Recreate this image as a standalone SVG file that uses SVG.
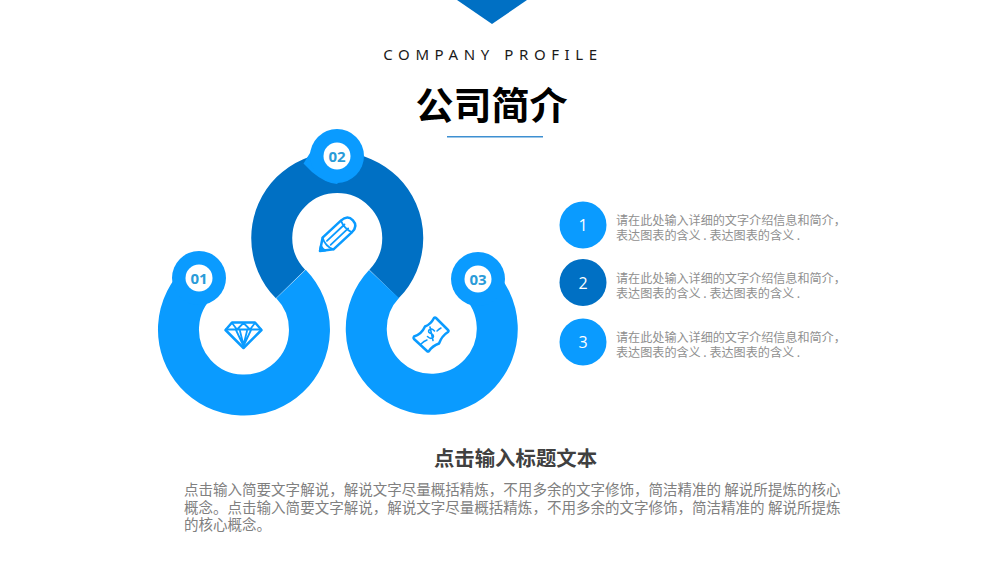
<svg xmlns="http://www.w3.org/2000/svg" width="1000" height="563" viewBox="0 0 1000 563">
<style>
text{font-family:"Noto Sans CJK SC","Noto Sans",sans-serif}
.ring{fill:none;stroke-width:41}
.light{stroke:#0a9bff}
.dark{stroke:#0070c4}
.lf{fill:#0a9bff}
.df{fill:#0070c4}
.badge{font-size:15px;font-weight:700;fill:#2a9bd8;text-anchor:middle;font-family:"Noto Sans",sans-serif}
.num{font-size:16px;fill:#fff;text-anchor:middle;font-family:"Open Sans",sans-serif}
.side{font-size:12.1px;fill:#8f8f8f}
.body{font-size:14.53px;fill:#808080}
.icon{fill:none;stroke:#0a9bff;stroke-width:2.2;stroke-linejoin:round;stroke-linecap:round}
</style>
<rect width="1000" height="563" fill="#fff"/>
<polygon id="top-mark" class="df" points="457,0 527,0 492,24"/>
<text x="493" y="60" font-size="15" letter-spacing="5.6" text-anchor="middle" fill="#1a1a1a" style="font-family:'Noto Sans','Open Sans',sans-serif">COMPANY PROFILE</text>
<text x="491.500" y="119" font-size="38" font-weight="700" text-anchor="middle" fill="#000">公司简介</text>
<rect x="447" y="136" width="96" height="1.5" fill="#3d8fd1"/>
<g id="connectors">
<path class="ring dark" d="M290.500 284A65.500 65.500 0 1 1 384 284"/>
<path class="ring light" d="M200.600 280.500A65.500 65.500 0 1 0 291 284"/>
<path class="ring light" d="M476 280.500A65.500 65.500 0 1 1 384 284"/>
</g>
<g id="node-01">
<circle class="lf" cx="199" cy="278" r="27"/>
<circle cx="199" cy="278" r="13.500" fill="#fff"/>
<text class="badge" x="199" y="283.500">01</text>
<g class="icon">
<path d="M232 322.500H255L261.500 330L243.500 348L225.500 330Z" stroke-width="2.500"/>
<path d="M226 329.500H261M236 330L243.500 346L251 330M240 331L243.500 345M247 331L243.500 345M232 323L237 329.500L243.500 323L250 329.500L255 323" stroke-width="1.800"/>
</g>
</g>
<g id="node-02">
<path class="lf" d="M303.500 163.500L318 140L350 170L337 184Q325 183 312 172Z"/>
<circle class="lf" cx="337" cy="156" r="27"/>
<circle cx="337" cy="156" r="13.500" fill="#fff"/>
<text class="badge" x="337" y="161.500">02</text>
<g class="icon" transform="translate(320 251) rotate(-43)">
<path d="M0 0L11 -8L36 -8Q45 -8 45 0Q45 8 36 8L11 8Z" stroke-width="2.500"/>
<path d="M11 -8Q7 0 11 8M12 -2.700L36 -2.700M12 2.700L36 2.700M36 -8Q33 0 36 8" stroke-width="1.800"/>
<path d="M0 0L4 -3Q3 0 4 3Z" fill="#0a9bff"/>
</g>
</g>
<g id="node-03">
<circle class="lf" cx="478" cy="279" r="27"/>
<circle cx="478" cy="279" r="13.500" fill="#fff"/>
<text class="badge" x="478" y="284.500">03</text>
<g class="icon">
<path d="M414 336.500C419 335 423 331 425 326.500C429 325 432 322 434 318Q435 317 436 318L448 330Q449 331 448 332C444 334.500 441 338 439 343.500C435 345 431 348 429 351Q428 352 427 351L414 339Q413 338 414 336.500Z" stroke-width="2.500"/>
<path d="M421 344Q424 341 427 340M441 328Q439 329 437 331" stroke-width="1.500"/>
<path d="M434.500 331Q431.500 327.500 429 330Q427.500 332.500 431 333.500Q434.500 335 433 337.500Q430.500 339.500 427.500 336.500M430 327L433 340.500" stroke-width="1.600"/>
</g>
</g>
<g id="item-1">
<circle class="lf" cx="583" cy="225" r="23.500"/>
<text class="num" x="583" y="231">1</text>
<text class="side" x="616" y="225">请在此处输入详细的文字介绍信息和简介，<tspan x="616" y="239.500">表达图表的含义 . 表达图表的含义 .</tspan></text>
</g>
<g id="item-2">
<circle class="df" cx="583" cy="282.500" r="23.500"/>
<text class="num" x="583" y="288.500">2</text>
<text class="side" x="616" y="283">请在此处输入详细的文字介绍信息和简介，<tspan x="616" y="297.500">表达图表的含义 . 表达图表的含义 .</tspan></text>
</g>
<g id="item-3">
<circle class="lf" cx="583" cy="342" r="23.500"/>
<text class="num" x="583" y="348">3</text>
<text class="side" x="616" y="342">请在此处输入详细的文字介绍信息和简介，<tspan x="616" y="356.500">表达图表的含义 . 表达图表的含义 .</tspan></text>
</g>
<text x="515.500" y="466" font-size="20.400" font-weight="700" text-anchor="middle" fill="#404040">点击输入标题文本</text>
<text class="body" x="184" y="495">点击输入简要文字解说，解说文字尽量概括精炼，不用多余的文字修饰，简洁精准的 解说所提炼的核心<tspan x="184" y="512.500">概念。点击输入简要文字解说，解说文字尽量概括精炼，不用多余的文字修饰，简洁精准的 解说所提炼</tspan><tspan x="184" y="530">的核心概念。</tspan></text>
</svg>
